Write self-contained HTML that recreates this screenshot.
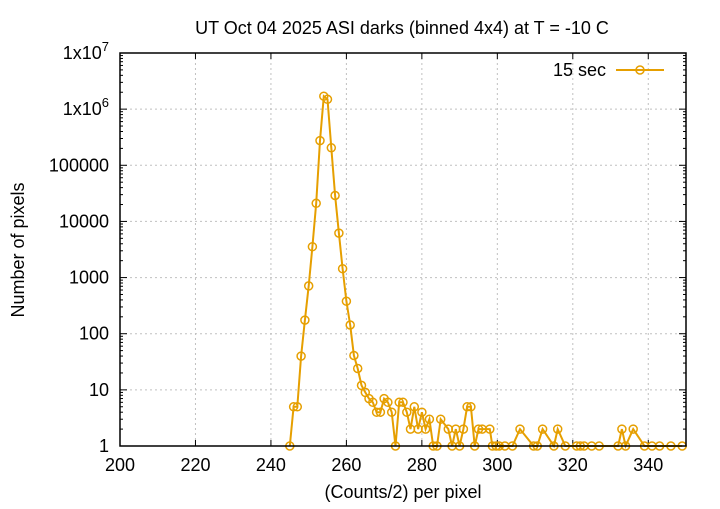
<!DOCTYPE html>
<html><head><meta charset="utf-8"><style>
body{margin:0;background:#fff}
svg text{font-family:"Liberation Sans",sans-serif;fill:#000}
</style></head><body>
<svg id="s" width="720" height="504" xmlns="http://www.w3.org/2000/svg">
<rect width="720" height="504" fill="#fff"/>
<g id="grid" stroke="#c0c0c0" stroke-width="1" stroke-dasharray="2,3"></g>
<g id="ticks" stroke="#000" stroke-width="1"></g>
<g id="labels" font-size="18"></g>
<path id="line" fill="none" stroke="#e69f00" stroke-width="2"/>
<g id="pts" fill="none" stroke="#e69f00" stroke-width="1.5"></g>
<rect x="120" y="53" width="566" height="393" fill="none" stroke="#000" stroke-width="1.5"/>
<text x="402" y="34" font-size="18" text-anchor="middle">UT Oct 04 2025 ASI darks (binned 4x4) at T = -10 C</text>
<text x="403" y="498" font-size="18" text-anchor="middle">(Counts/2) per pixel</text>
<text transform="translate(24,250) rotate(-90)" font-size="18" text-anchor="middle">Number of pixels</text>
<text x="606" y="76" font-size="18" text-anchor="end">15 sec</text>
<line x1="616" y1="70" x2="664" y2="70" stroke="#e69f00" stroke-width="2"/>
<circle cx="640" cy="70" r="4" fill="none" stroke="#e69f00" stroke-width="1.5"/>
</svg>
<script>
var L=120,R=686,T=53,B=446,dec=(B-T)/7;
function X(v){return L+(v-200)*(R-L)/150}
function Y(v){return B-Math.log10(v)*dec}
var ns="http://www.w3.org/2000/svg";
function el(p,t,a,txt){var e=document.createElementNS(ns,t);for(var k in a)e.setAttribute(k,a[k]);if(txt)e.textContent=txt;document.getElementById(p).appendChild(e);}
for(var v=200;v<=340;v+=20){var x=X(v);
 if(v>200)el('grid','line',{x1:x,y1:T,x2:x,y2:B});
 el('ticks','line',{x1:x,y1:B,x2:x,y2:B-6});el('ticks','line',{x1:x,y1:T,x2:x,y2:T+6});
 el('labels','text',{x:x,y:471,'text-anchor':'middle'},String(v));}
var yl=["1","10","100","1000","10000","100000"];
for(var d=0;d<=7;d++){var y=B-d*dec;
 if(d>0&&d<7)el('grid','line',{x1:L,y1:y,x2:R,y2:y});
 el('ticks','line',{x1:L,y1:y,x2:L+7,y2:y});el('ticks','line',{x1:R,y1:y,x2:R-7,y2:y});
 if(d<7)for(var m=2;m<10;m++){var ym=y-Math.log10(m)*dec;el('ticks','line',{x1:L,y1:ym,x2:L+3,y2:ym});el('ticks','line',{x1:R,y1:ym,x2:R-3,y2:ym});}
 if(d<6)el('labels','text',{x:109,y:y+6,'text-anchor':'end'},yl[d]);
}
[6,7].forEach(function(d){var t=document.createElementNS(ns,'text');t.setAttribute('x',109);t.setAttribute('y',B-d*dec+6);t.setAttribute('text-anchor','end');t.setAttribute('font-size','18');t.innerHTML='1x10<tspan dy="-8" font-size="13">'+d+'</tspan>';document.getElementById('labels').appendChild(t);});
var D=[[245,1],[246,5],[247,5],[248,40],[249,175],[250,710],[251,3550],[252,21000],[253,275000],[254,1700000],[255,1500000],[256,205000],[257,29000],[258,6200],[259,1440],[260,380],[261,143],[262,41],[263,24],[264,12],[265,9],[266,7],[267,6],[268,4],[269,4],[270,7],[271,6],[272,4],[273,1],[274,6],[275,6],[276,4],[277,2],[278,5],[279,2],[280,4],[281,2],[282,3],[283,1],[284,1],[285,3],[287,2],[288,1],[289,2],[290,1],[291,2],[292,5],[293,5],[294,1],[295,2],[296,2],[298,2],[298.7,1],[299.7,1],[300.5,1],[302,1],[304,1],[306,2],[309.6,1],[310.6,1],[312,2],[315,1],[316,2],[318,1],[321,1],[322,1],[323,1],[325,1],[327,1],[332,1],[333,2],[334,1],[336,2],[339,1],[341,1],[343,1],[346,1],[349,1]];
var p="";D.forEach(function(d,i){var x=X(d[0]).toFixed(1),y=Y(d[1]).toFixed(1);p+=(i?"L":"M")+x+","+y;el('pts','circle',{cx:x,cy:y,r:4});});
document.getElementById('line').setAttribute('d',p);
</script>
</body></html>
